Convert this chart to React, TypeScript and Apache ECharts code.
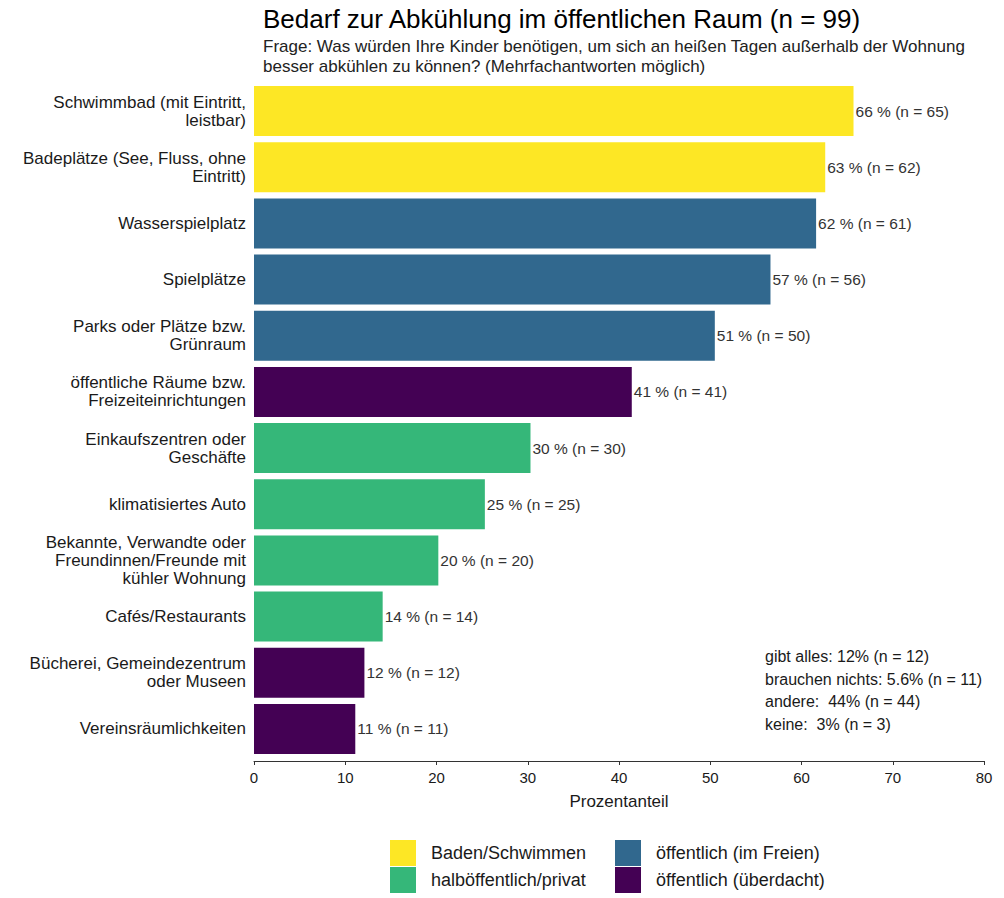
import React, { useEffect, useRef } from "react";
import * as echarts from "echarts";

const categories = [
  "Schwimmbad (mit Eintritt,\nleistbar)",
  "Badeplätze (See, Fluss, ohne\nEintritt)",
  "Wasserspielplatz",
  "Spielplätze",
  "Parks oder Plätze bzw.\nGrünraum",
  "öffentliche Räume bzw.\nFreizeiteinrichtungen",
  "Einkaufszentren oder\nGeschäfte",
  "klimatisiertes Auto",
  "Bekannte, Verwandte oder\nFreundinnen/Freunde mit\nkühler Wohnung",
  "Cafés/Restaurants",
  "Bücherei, Gemeindezentrum\noder Museen",
  "Vereinsräumlichkeiten",
];
const percents = [65.7, 62.6, 61.6, 56.6, 50.5, 41.4, 30.3, 25.3, 20.2, 14.1, 12.1, 11.1];
const counts = [65, 62, 61, 56, 50, 41, 30, 25, 20, 14, 12, 11];
const groupOf = [
  "Baden/Schwimmen",
  "Baden/Schwimmen",
  "öffentlich (im Freien)",
  "öffentlich (im Freien)",
  "öffentlich (im Freien)",
  "öffentlich (überdacht)",
  "halböffentlich/privat",
  "halböffentlich/privat",
  "halböffentlich/privat",
  "halböffentlich/privat",
  "öffentlich (überdacht)",
  "öffentlich (überdacht)",
];
const groups = ["Baden/Schwimmen", "halböffentlich/privat", "öffentlich (im Freien)", "öffentlich (überdacht)"];
const groupColors = ["#FDE725", "#35B779", "#31688E", "#440154"];
const xTicks = [0, 80, 10];
const noteLines = [
  "gibt alles: 12% (n = 12)",
  "brauchen nichts: 5.6% (n = 11)",
  "andere:  44% (n = 44)",
  "keine:  3% (n = 3)",
];

const FONT = '"Liberation Sans", Arial, sans-serif';

export default function App() {
  const ref = useRef<HTMLDivElement>(null);
  useEffect(() => {
    if (!ref.current) return;
    const chart = echarts.init(ref.current, undefined, { renderer: "svg" });
    const series = groups.map((g, gi) => ({
      name: g,
      type: "bar",
      stack: "all",
      barWidth: "89%",
      itemStyle: { color: groupColors[gi] },
      data: percents.map((v, i) => (groupOf[i] === g ? v : "-")),
      label: {
        show: true,
        position: "right",
        distance: 2,
        color: "#333",
        fontSize: 15.5,
        fontFamily: FONT,
        formatter: (p: any) => `${Math.round(p.value)} % (n = ${counts[p.dataIndex]})`,
      },
    }));
    const legendPos = [
      { left: 390, top: 840 },
      { left: 390, top: 867 },
      { left: 615, top: 840 },
      { left: 615, top: 867 },
    ];
    const legends = groups.map((g, gi) => ({
      data: [g],
      left: legendPos[gi].left,
      top: legendPos[gi].top,
      padding: 0,
      icon: "rect",
      itemWidth: 26,
      itemHeight: 26,
      selectedMode: false,
      textStyle: { fontSize: 18, color: "#1a1a1a", fontFamily: FONT, padding: [0, 0, 0, 10] },
    }));
    chart.setOption({
      animation: false,
      textStyle: { fontFamily: FONT },
      title: {
        left: 263,
        top: 6,
        padding: 0,
        itemGap: 4,
        text: "Bedarf zur Abkühlung im öffentlichen Raum (n = 99)",
        textStyle: { fontSize: 26, fontWeight: "normal", color: "#000", fontFamily: FONT },
        subtext:
          "Frage: Was würden Ihre Kinder benötigen, um sich an heißen Tagen außerhalb der Wohnung\nbesser abkühlen zu können? (Mehrfachantworten möglich)",
        subtextStyle: { fontSize: 17, color: "#222", lineHeight: 20, fontFamily: FONT },
      },
      legend: legends,
      grid: { left: 254, right: 20, top: 83, height: 674, containLabel: false },
      xAxis: {
        type: "value",
        min: xTicks[0],
        max: xTicks[1],
        interval: xTicks[2],
        offset: 4,
        name: "Prozentanteil",
        nameLocation: "middle",
        nameGap: 32,
        nameTextStyle: { fontSize: 17, color: "#1a1a1a", fontFamily: FONT },
        axisLine: { show: true, lineStyle: { color: "#333", width: 1 } },
        axisTick: { show: true, length: 4, lineStyle: { color: "#333" } },
        axisLabel: { fontSize: 15, color: "#1a1a1a", margin: 9, fontFamily: FONT },
        splitLine: { show: false },
      },
      yAxis: {
        type: "category",
        data: categories,
        inverse: true,
        axisLine: { show: false },
        axisTick: { show: false },
        axisLabel: { fontSize: 17, color: "#1a1a1a", margin: 8, lineHeight: 18, align: "right", fontFamily: FONT },
      },
      graphic: [
        {
          type: "text",
          left: 765,
          top: 645,
          style: {
            text: noteLines.join("\n"),
            fontSize: 16,
            lineHeight: 22.7,
            fill: "#1a1a1a",
            fontFamily: FONT,
          },
        },
      ],
      series,
    });
    return () => chart.dispose();
  }, []);
  return (
    <div
      ref={ref}
      style={{ position: "fixed", left: 0, top: 0, width: 1004, height: 898, background: "#fff" }}
    />
  );
}
